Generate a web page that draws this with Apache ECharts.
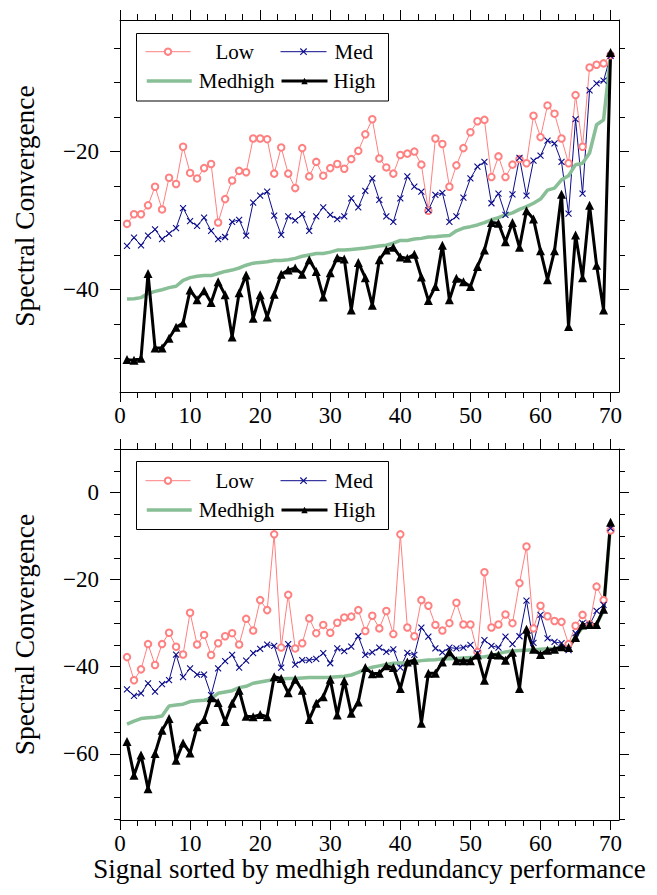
<!DOCTYPE html>
<html>
<head>
<meta charset="utf-8">
<script src="https://cdn.jsdelivr.net/npm/echarts@6/dist/echarts.min.js"></script>
<style>
html,body{margin:0;padding:0;background:#fff;}
#chart{width:657px;height:895px;}
</style>
</head>
<body>
<div id="chart"></div>
<script>
// ---------------- data ----------------
const signalIndex = [1,2,3,4,5,6,7,8,9,10,11,12,13,14,15,16,17,18,19,20,21,22,23,24,25,26,27,28,29,30,31,32,33,34,35,36,37,38,39,40,41,42,43,44,45,46,47,48,49,50,51,52,53,54,55,56,57,58,59,60,61,62,63,64,65,66,67,68,69,70];

const xTickLabels = [0,10,20,30,40,50,60,70];
const xMinorTicks = [2.5,5,7.5,12.5,15,17.5,22.5,25,27.5,32.5,35,37.5,42.5,45,47.5,52.5,55,57.5,62.5,65,67.5];
const topYTickLabels = [-40,-20];
const topYMinorTicks = [-50,-45,-35,-30,-25,-15,-10,-5];
const bottomYTickLabels = [-60,-40,-20,0];
const bottomYMinorTicks = [-75,-70,-65,-55,-50,-45,-35,-30,-25,-15,-10,-5,5,10];

const seriesNames = ['Low','Med','Medhigh','High'];

// top panel
const topLow = [-30.5,-29.1,-29.1,-27.8,-25.1,-28.4,-23.8,-24.7,-19.3,-23.1,-23.9,-22.4,-21.8,-30.3,-26.9,-24.2,-22.8,-23.0,-18.1,-18.1,-18.2,-23.2,-19.4,-23.2,-25.3,-19.5,-23.6,-21.5,-23.5,-22.4,-21.8,-22.5,-21.1,-19.9,-17.5,-15.3,-21.0,-22.3,-23.2,-20.5,-20.3,-20.0,-21.9,-28.6,-18.1,-18.9,-25.1,-22.0,-19.5,-17.2,-15.6,-15.4,-23.7,-20.7,-23.7,-21.9,-21.1,-21.7,-14.8,-17.9,-13.3,-14.5,-18.1,-21.7,-11.8,-19.3,-7.8,-7.4,-7.2,-6.0];
const topMed = [-33.7,-32.5,-33.6,-32.2,-31.3,-32.7,-31.9,-31.1,-28.2,-30.1,-30.8,-29.6,-31.5,-32.7,-32.4,-30.2,-29.9,-32.2,-27.4,-26.4,-25.8,-29.3,-32.1,-29.4,-30.0,-29.1,-31.5,-29.4,-28.1,-29.2,-29.8,-29.4,-26.8,-28.1,-25.7,-23.9,-27.0,-29.4,-30.2,-26.8,-23.6,-25.1,-25.8,-28.5,-26.3,-26.0,-30.2,-29.4,-26.7,-23.9,-22.2,-21.5,-27.5,-26.1,-29.2,-26.2,-20.9,-26.4,-21.3,-20.6,-18.4,-18.8,-21.5,-29.0,-15.3,-26.1,-11.1,-10.1,-9.7,-6.1];
const topMedhigh = [-41.4,-41.35,-41.2,-40.6,-40.3,-40.05,-39.75,-39.55,-38.7,-38.3,-38.1,-38.0,-38.0,-37.7,-37.4,-37.2,-36.9,-36.5,-36.2,-36.1,-36.0,-35.8,-35.8,-35.7,-35.5,-35.2,-35.0,-34.8,-34.8,-34.6,-34.3,-34.3,-34.2,-34.1,-34.0,-33.85,-33.7,-33.6,-33.3,-32.9,-32.9,-32.7,-32.6,-32.4,-32.35,-32.25,-32.2,-31.5,-31.1,-30.9,-30.65,-30.3,-29.9,-29.6,-29.2,-28.9,-28.4,-28.0,-27.5,-26.9,-25.6,-25.3,-24.1,-23.5,-21.9,-21.7,-20.2,-16.1,-15.4,-6.0];
const topHigh = [-50.2,-50.3,-50.0,-37.7,-48.5,-48.5,-47.1,-45.5,-44.9,-40.1,-41.5,-40.2,-41.9,-38.9,-40.8,-46.9,-40.5,-37.9,-44.2,-40.8,-44.0,-40.7,-37.8,-37.2,-36.9,-37.8,-35.7,-37.4,-41.1,-37.6,-35.4,-35.6,-43.0,-36.1,-38.3,-42.3,-35.7,-34.3,-33.9,-35.3,-35.5,-34.9,-38.2,-41.6,-39.6,-33.6,-41.5,-38.4,-38.9,-39.6,-36.7,-34.3,-30.3,-30.4,-33.1,-30.3,-33.9,-28.6,-29.8,-34.4,-38.6,-34.4,-26.2,-45.4,-32.1,-38.3,-27.8,-36.5,-43.0,-5.6];

// bottom panel
const bottomLow = [-37.8,-43.1,-40.6,-34.8,-39.6,-34.8,-32.2,-35.4,-37.2,-27.6,-34.9,-32.7,-37.3,-34.6,-33.0,-32.3,-34.9,-29.0,-31.7,-24.7,-27.0,-9.6,-35.6,-23.5,-35.8,-34.6,-28.9,-32.3,-30.4,-32.2,-29.9,-28.7,-28.5,-27.0,-31.8,-28.3,-31.2,-27.2,-32.5,-9.6,-31.0,-33.0,-24.7,-26.0,-30.4,-31.7,-30.0,-25.3,-30.3,-30.3,-36.6,-18.3,-31.0,-30.3,-28.0,-30.0,-20.8,-12.4,-31.2,-26.0,-28.4,-29.5,-29.7,-34.8,-30.6,-28.1,-30.3,-21.6,-24.7,-8.7];
const bottomMed = [-45.2,-46.7,-46.1,-43.8,-45.7,-44.0,-43.1,-37.2,-42.4,-40.4,-41.8,-41.8,-46.5,-40.4,-38.7,-37.3,-40.2,-38.6,-36.9,-35.9,-34.9,-35.2,-40.2,-34.8,-39.5,-38.5,-38.5,-38.2,-36.9,-39.2,-35.8,-36.4,-35.4,-33.0,-37.3,-36.7,-35.6,-36.6,-36.0,-40.2,-36.8,-37.3,-31.0,-33.1,-35.8,-36.7,-35.6,-35.8,-35.6,-35.0,-36.9,-33.9,-35.2,-35.6,-33.1,-34.8,-33.0,-24.8,-34.5,-28.1,-33.5,-34.3,-34.6,-36.2,-32.3,-30.0,-30.4,-27.2,-25.8,-8.2];
const bottomMedhigh = [-53.2,-52.5,-51.9,-51.7,-51.6,-51.3,-49.0,-48.8,-48.6,-48.0,-47.8,-47.7,-47.3,-46.1,-45.8,-45.5,-44.8,-44.5,-43.8,-43.5,-43.2,-42.9,-42.8,-42.7,-42.7,-42.6,-42.5,-42.5,-42.45,-42.4,-42.3,-42.2,-41.9,-41.3,-40.6,-40.1,-39.8,-39.5,-39.2,-39.15,-39.1,-38.85,-38.6,-38.45,-38.4,-38.2,-38.15,-38.1,-38.0,-37.9,-37.85,-37.7,-37.5,-37.0,-36.6,-36.4,-36.3,-36.2,-36.1,-36.0,-35.9,-35.8,-35.6,-35.4,-33.1,-31.0,-30.7,-30.3,-27.0,-7.0];
const bottomHigh = [-57.2,-64.9,-60.3,-68.0,-59.9,-54.6,-51.9,-61.5,-57.5,-59.8,-53.8,-52.1,-47.1,-48.2,-52.6,-48.4,-45.4,-51.4,-51.5,-51.0,-51.5,-42.3,-42.7,-46.0,-42.9,-45.4,-52.1,-48.4,-46.9,-42.9,-51.1,-43.2,-50.7,-48.1,-40.2,-41.6,-41.5,-39.8,-40.2,-45.0,-38.9,-38.5,-53.0,-41.5,-41.5,-38.9,-36.6,-38.6,-38.6,-38.6,-37.3,-43.1,-37.2,-37.3,-38.5,-36.7,-45.0,-31.4,-36.0,-37.2,-36.2,-36.0,-35.4,-35.6,-33.3,-30.4,-30.3,-30.3,-26.8,-6.8];

// ---------------- styling / layout ----------------
const FONT = 'Liberation Serif';
const X_MIN = 0, X_MAX = 71.2;
const panels = [
  { grid: {left: 120, top: 20, width: 499, height: 372}, yMin: -54.9, yMax: -0.9,
    yLabels: topYTickLabels, yMinor: topYMinorTicks,
    values: [topLow, topMed, topMedhigh, topHigh],
    box: {x: 136.5, y: 33.5, w: 252, h: 67.5}, rows: [51.7, 81] },
  { grid: {left: 120, top: 449, width: 499, height: 371}, yMin: -75.2, yMax: 10,
    yLabels: bottomYTickLabels, yMinor: bottomYMinorTicks,
    values: [bottomLow, bottomMed, bottomMedhigh, bottomHigh],
    box: {x: 136.5, y: 461.5, w: 252, h: 68}, rows: [480.7, 510] }
];

const seriesStyle = {
  Low:     {color: '#ff8080', width: 1,   symbol: 'emptyCircle', size: 6.5, bw: 1},
  Med:     {color: '#0c0c8c', width: 1,   symbol: 'path://M0,0L10,10M10,0L0,10', size: 6, bw: 1.1},
  Medhigh: {color: '#88bf96', width: 3.5, symbol: 'none', size: 0, bw: 0},
  High:    {color: '#000000', width: 3,   symbol: 'triangle', size: 9, bw: 0}
};

const MAJOR = 10, MINOR = 6;
const fmt = v => (v < 0 ? '\u2212' + (-v) : String(v));
const blackLine = {show: true, onZero: false, lineStyle: {color: '#000', width: 1}};
const noLine = {show: false, onZero: false};
const tickFont = {color: '#000', fontFamily: FONT, fontSize: 23, fontWeight: 'normal', fontStyle: 'normal'};

function tick(len, values) {
  return {show: true, inside: false, length: len, customValues: values, lineStyle: {color: '#000', width: 1}};
}

const xAxis = [], yAxis = [], series = [], legend = [], graphic = [], grid = [];

panels.forEach((p, g) => {
  grid.push(Object.assign({show: false}, p.grid));
  const xc = {gridIndex: g, type: 'value', min: X_MIN, max: X_MAX, splitLine: {show: false}, silent: true};
  const yc = {gridIndex: g, type: 'value', min: p.yMin, max: p.yMax, splitLine: {show: false}, silent: true};
  const xMain = Object.assign({}, xc, {
    position: 'bottom', axisLine: blackLine, axisTick: tick(MAJOR, xTickLabels),
    axisLabel: Object.assign({show: true, customValues: xTickLabels, formatter: fmt, margin: 11.5}, tickFont)
  });
  if (g === 1) {
    Object.assign(xMain, {name: 'Signal sorted by medhigh redundancy performance', nameLocation: 'middle', nameGap: 33,
      nameTextStyle: {fontFamily: FONT, fontSize: 27, color: '#000'}});
  }
  xAxis.push(xMain,
    Object.assign({}, xc, {position: 'bottom', axisLine: noLine, axisTick: tick(MINOR, xMinorTicks), axisLabel: {show: false}}),
    Object.assign({}, xc, {position: 'top', axisLine: blackLine, axisTick: tick(MAJOR, xTickLabels), axisLabel: {show: false}}),
    Object.assign({}, xc, {position: 'top', axisLine: noLine, axisTick: tick(MINOR, xMinorTicks), axisLabel: {show: false}})
  );
  yAxis.push(
    Object.assign({}, yc, {position: 'left', axisLine: blackLine, axisTick: tick(MAJOR, p.yLabels),
      axisLabel: Object.assign({show: true, customValues: p.yLabels, formatter: fmt, margin: 21}, tickFont),
      name: 'Spectral Convergence', nameLocation: 'middle', nameGap: 82, nameRotate: 90,
      nameTextStyle: {fontFamily: FONT, fontSize: 27.5, color: '#000'}}),
    Object.assign({}, yc, {position: 'left', axisLine: noLine, axisTick: tick(MINOR, p.yMinor), axisLabel: {show: false}}),
    Object.assign({}, yc, {position: 'right', axisLine: blackLine, axisTick: tick(MAJOR, p.yLabels), axisLabel: {show: false}}),
    Object.assign({}, yc, {position: 'right', axisLine: noLine, axisTick: tick(MINOR, p.yMinor), axisLabel: {show: false}})
  );

  seriesNames.forEach((name, k) => {
    const st = seriesStyle[name];
    series.push({
      name: name, type: 'line', xAxisIndex: g * 4, yAxisIndex: g * 4,
      data: signalIndex.map((x, i) => [x, p.values[k][i]]),
      symbol: st.symbol, symbolSize: st.size, showSymbol: st.symbol !== 'none',
      lineStyle: {color: st.color, width: st.width},
      itemStyle: {color: st.color, borderColor: st.color, borderWidth: st.bw},
      emphasis: {disabled: true}, silent: true, z: 2, animation: false
    });
  });

  // legend frame
  graphic.push({type: 'rect', z: 3, silent: true,
    shape: {x: p.box.x, y: p.box.y, width: p.box.w, height: p.box.h},
    style: {fill: '#fff', stroke: '#000', lineWidth: 1}});

  // legend entries: [name, left, row, textPadLeft, iconWidth]
  const entries = [['Low', 145, 0, 20, 45], ['Med', 280, 0, 3, 46], ['Medhigh', 145, 1, 2, 45], ['High', 280, 1, 1, 46]];
  entries.forEach(e => {
    const st = seriesStyle[e[0]];
    legend.push({
      show: true, data: [e[0]], left: e[1], top: p.rows[e[2]] - 10.5, padding: 0, z: 4,
      itemWidth: e[4], itemHeight: 8, selectedMode: false,
      textStyle: {fontFamily: FONT, fontSize: 21, color: '#000', padding: [0, 0, 0, e[3]]},
      lineStyle: {width: st.width, color: st.color},
      itemStyle: e[0] === 'Medhigh' ? {opacity: 0} : {borderWidth: st.bw, borderColor: st.color}
    });
  });
});

const chart = echarts.init(document.getElementById('chart'), null, {renderer: 'svg'});
chart.setOption({
  animation: false,
  backgroundColor: '#fff',
  textStyle: {fontFamily: FONT, color: '#000'},
  grid: grid, xAxis: xAxis, yAxis: yAxis, series: series, legend: legend, graphic: graphic
});
</script>
</body>
</html>
